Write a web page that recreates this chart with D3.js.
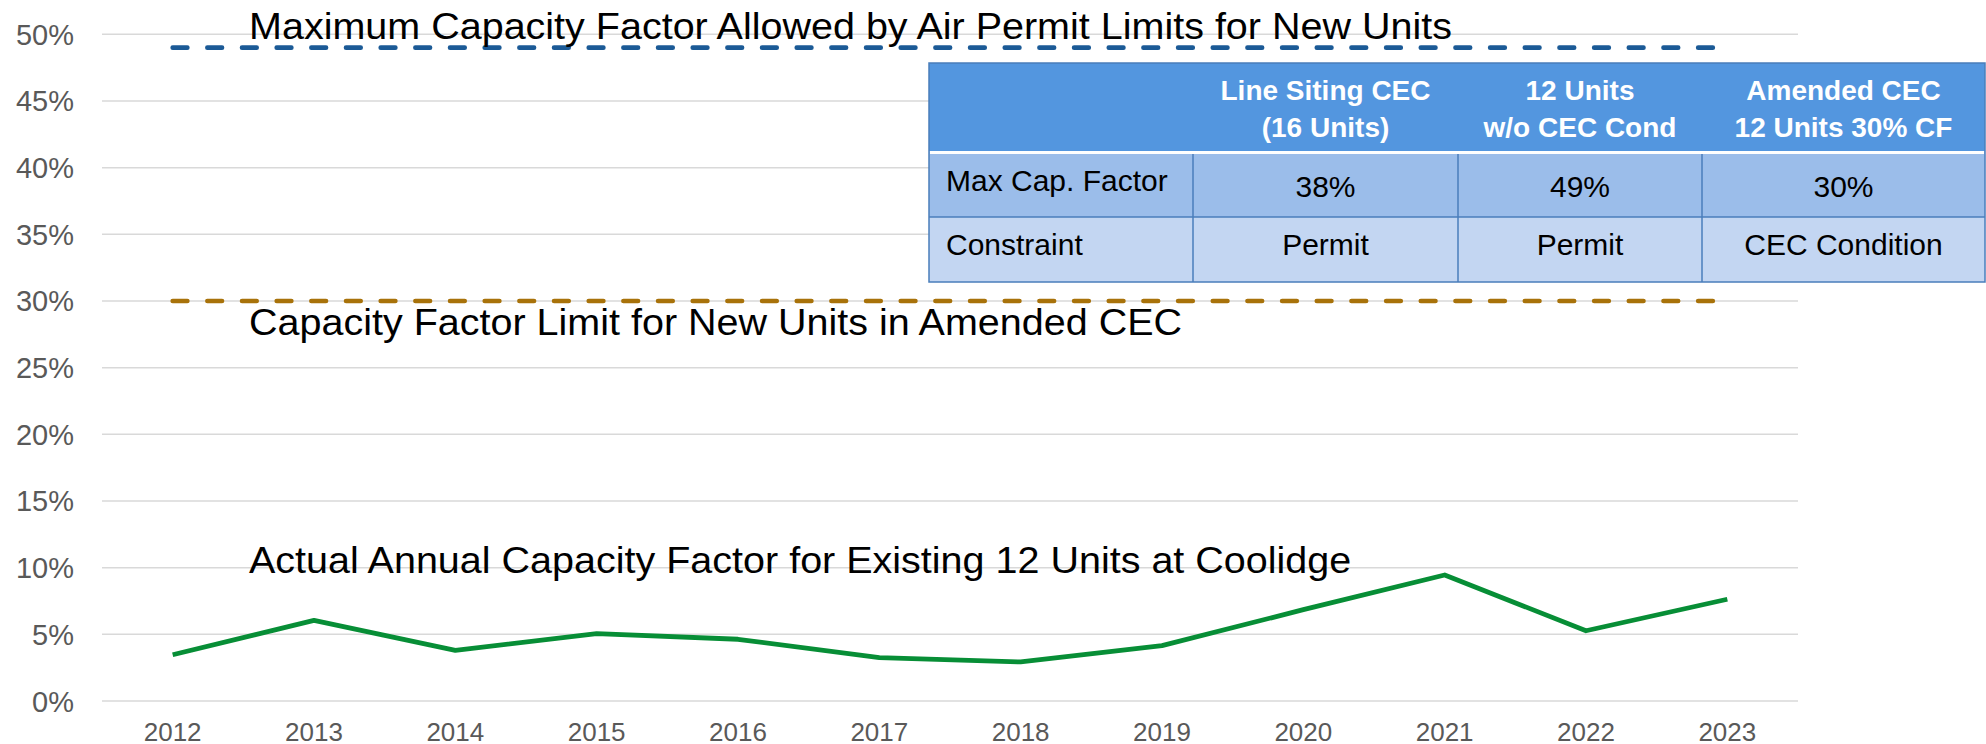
<!DOCTYPE html>
<html>
<head>
<meta charset="utf-8">
<script src="https://cdn.jsdelivr.net/npm/d3@7"></script>
<style>
  body { margin: 0; background: #fff; }
  svg text { font-family: "Liberation Sans", Arial, sans-serif; }
</style>
</head>
<body>
<div id="chart"></div>
<script>
"use strict";

// chart data
const years = ["2012", "2013", "2014", "2015", "2016", "2017", "2018", "2019", "2020", "2021", "2022", "2023"];
const actualCF = [3.47, 6.05, 3.8, 5.05, 4.63, 3.25, 2.93, 4.15, 6.85, 9.45, 5.27, 7.63];
const permitLimit = 49;
const cecLimit = 30;
const yTicks = [0, 5, 10, 15, 20, 25, 30, 35, 40, 45, 50];

const permitLabel = "Maximum Capacity Factor Allowed by Air Permit Limits for New Units";
const cecLabel = "Capacity Factor Limit for New Units in Amended CEC";
const actualLabel = "Actual Annual Capacity Factor for Existing 12 Units at Coolidge";

// table data
const tableHeaders = [["Line Siting CEC", "(16 Units)"], ["12 Units", "w/o CEC Cond"], ["Amended CEC", "12 Units 30% CF"]];
const rowLabels = ["Max Cap. Factor", "Constraint"];
const maxCapFactor = ["38%", "49%", "30%"];
const constraints = ["Permit", "Permit", "CEC Condition"];

const W = 1986, H = 744;
const margin = { top: 34.3, left: 102, right: 188, bottom: 43 };

const svg = d3.select("#chart").append("svg")
    .attr("width", W)
    .attr("height", H);

const x = d3.scaleBand()
    .domain(years)
    .range([margin.left, W - margin.right]);
const y = d3.scaleLinear()
    .domain([0, 50])
    .range([H - margin.bottom, margin.top]);
const cx = d => x(d) + x.bandwidth() / 2;

// gridlines
svg.append("g")
   .selectAll("line").data(yTicks).enter()
   .append("line")
   .attr("x1", margin.left)
   .attr("x2", W - margin.right)
   .attr("y1", d => y(d))
   .attr("y2", d => y(d))
   .attr("stroke", "#d9d9d9")
   .attr("stroke-width", 1.5);

// y tick labels
svg.append("g")
   .selectAll("text").data(yTicks).enter()
   .append("text")
   .attr("x", 74)
   .attr("y", d => y(d) + 10.5)
   .attr("text-anchor", "end")
   .attr("fill", "#595959")
   .style("font-size", "29px")
   .text(d => d + "%");

// x tick labels
svg.append("g")
   .selectAll("text").data(years).enter()
   .append("text")
   .attr("x", d => cx(d))
   .attr("y", 741)
   .attr("text-anchor", "middle")
   .attr("fill", "#595959")
   .style("font-size", "26px")
   .text(d => d);

// limit lines
const first = years[0], last = years[years.length - 1];
const limits = [
    { v: permitLimit, color: "#1b5a96" },
    { v: cecLimit, color: "#a8720a" }
];
svg.append("g")
   .selectAll("line").data(limits).enter()
   .append("line")
   .attr("x1", cx(first))
   .attr("x2", cx(last))
   .attr("y1", d => y(d.v))
   .attr("y2", d => y(d.v))
   .attr("stroke", d => d.color)
   .attr("stroke-width", 4.6)
   .attr("stroke-linecap", "round")
   .attr("stroke-dasharray", "14.7 19.97");

// actual line
const line = d3.line()
    .x((d, i) => cx(years[i]))
    .y(d => y(d));
svg.append("path")
   .datum(actualCF)
   .attr("d", line)
   .attr("fill", "none")
   .attr("stroke", "#078e36")
   .attr("stroke-width", 4.8)
   .attr("stroke-linejoin", "round");

// annotations (slightly wider type than the default font)
const notes = [
    { t: permitLabel, yy: y(permitLimit) - 9 },
    { t: cecLabel, yy: y(cecLimit) + 34 },
    { t: actualLabel, yy: y(9.6) }
];
svg.append("g")
   .selectAll("g").data(notes).enter()
   .append("g")
   .attr("transform", d => `translate(249, ${d.yy}) scale(1.068, 1)`)
   .append("text")
   .attr("fill", "#000")
   .style("font-size", "37px")
   .text(d => d.t);

// table
const colX = [929, 1193, 1458, 1702, 1985];
const rowY = [63, 151.5, 217, 282];
const tbl = svg.append("g").attr("class", "table");

tbl.append("rect")
   .attr("x", colX[0]).attr("y", rowY[0])
   .attr("width", colX[4] - colX[0]).attr("height", rowY[1] - rowY[0])
   .attr("fill", "#5396df");
tbl.append("rect")
   .attr("x", colX[0]).attr("y", rowY[1])
   .attr("width", colX[4] - colX[0]).attr("height", rowY[2] - rowY[1])
   .attr("fill", "#9bbdea");
tbl.append("rect")
   .attr("x", colX[0]).attr("y", rowY[2])
   .attr("width", colX[4] - colX[0]).attr("height", rowY[3] - rowY[2])
   .attr("fill", "#c3d6f2");

// inner borders
tbl.selectAll("line.v").data(colX.slice(1, 4)).enter()
   .append("line")
   .attr("x1", d => d).attr("x2", d => d)
   .attr("y1", rowY[1]).attr("y2", rowY[3])
   .attr("stroke", "#4a7ebb").attr("stroke-width", 1.5);
tbl.append("line")
   .attr("x1", colX[0]).attr("x2", colX[4])
   .attr("y1", rowY[2]).attr("y2", rowY[2])
   .attr("stroke", "#4a7ebb").attr("stroke-width", 1.5);
tbl.append("rect")
   .attr("x", colX[0]).attr("y", rowY[0])
   .attr("width", colX[4] - colX[0]).attr("height", rowY[3] - rowY[0])
   .attr("fill", "none")
   .attr("stroke", "#4a7ebb").attr("stroke-width", 1.5);
tbl.append("line")
   .attr("x1", colX[0] + 1).attr("x2", colX[4] - 1)
   .attr("y1", rowY[1] + 1).attr("y2", rowY[1] + 1)
   .attr("stroke", "#fff").attr("stroke-width", 3);

// header text
tableHeaders.forEach((lines, i) => {
    const mid = (colX[i + 1] + colX[i + 2]) / 2;
    lines.forEach((s, j) => {
        tbl.append("text")
           .attr("x", mid)
           .attr("y", 100 + j * 37)
           .attr("text-anchor", "middle")
           .attr("fill", "#fff")
           .style("font-size", "28px")
           .style("font-weight", "bold")
           .text(s);
    });
});

// body text
const bodyRows = [maxCapFactor, constraints];
const labelBase = [190.5, 254.5];
const valueBase = [197, 254.5];
bodyRows.forEach((vals, r) => {
    tbl.append("text")
       .attr("x", colX[0] + 17)
       .attr("y", labelBase[r])
       .attr("fill", "#000")
       .style("font-size", "30px")
       .text(rowLabels[r]);
    vals.forEach((s, i) => {
        tbl.append("text")
           .attr("x", (colX[i + 1] + colX[i + 2]) / 2)
           .attr("y", valueBase[r])
           .attr("text-anchor", "middle")
           .attr("fill", "#000")
           .style("font-size", "30px")
           .text(s);
    });
});
</script>
</body>
</html>
